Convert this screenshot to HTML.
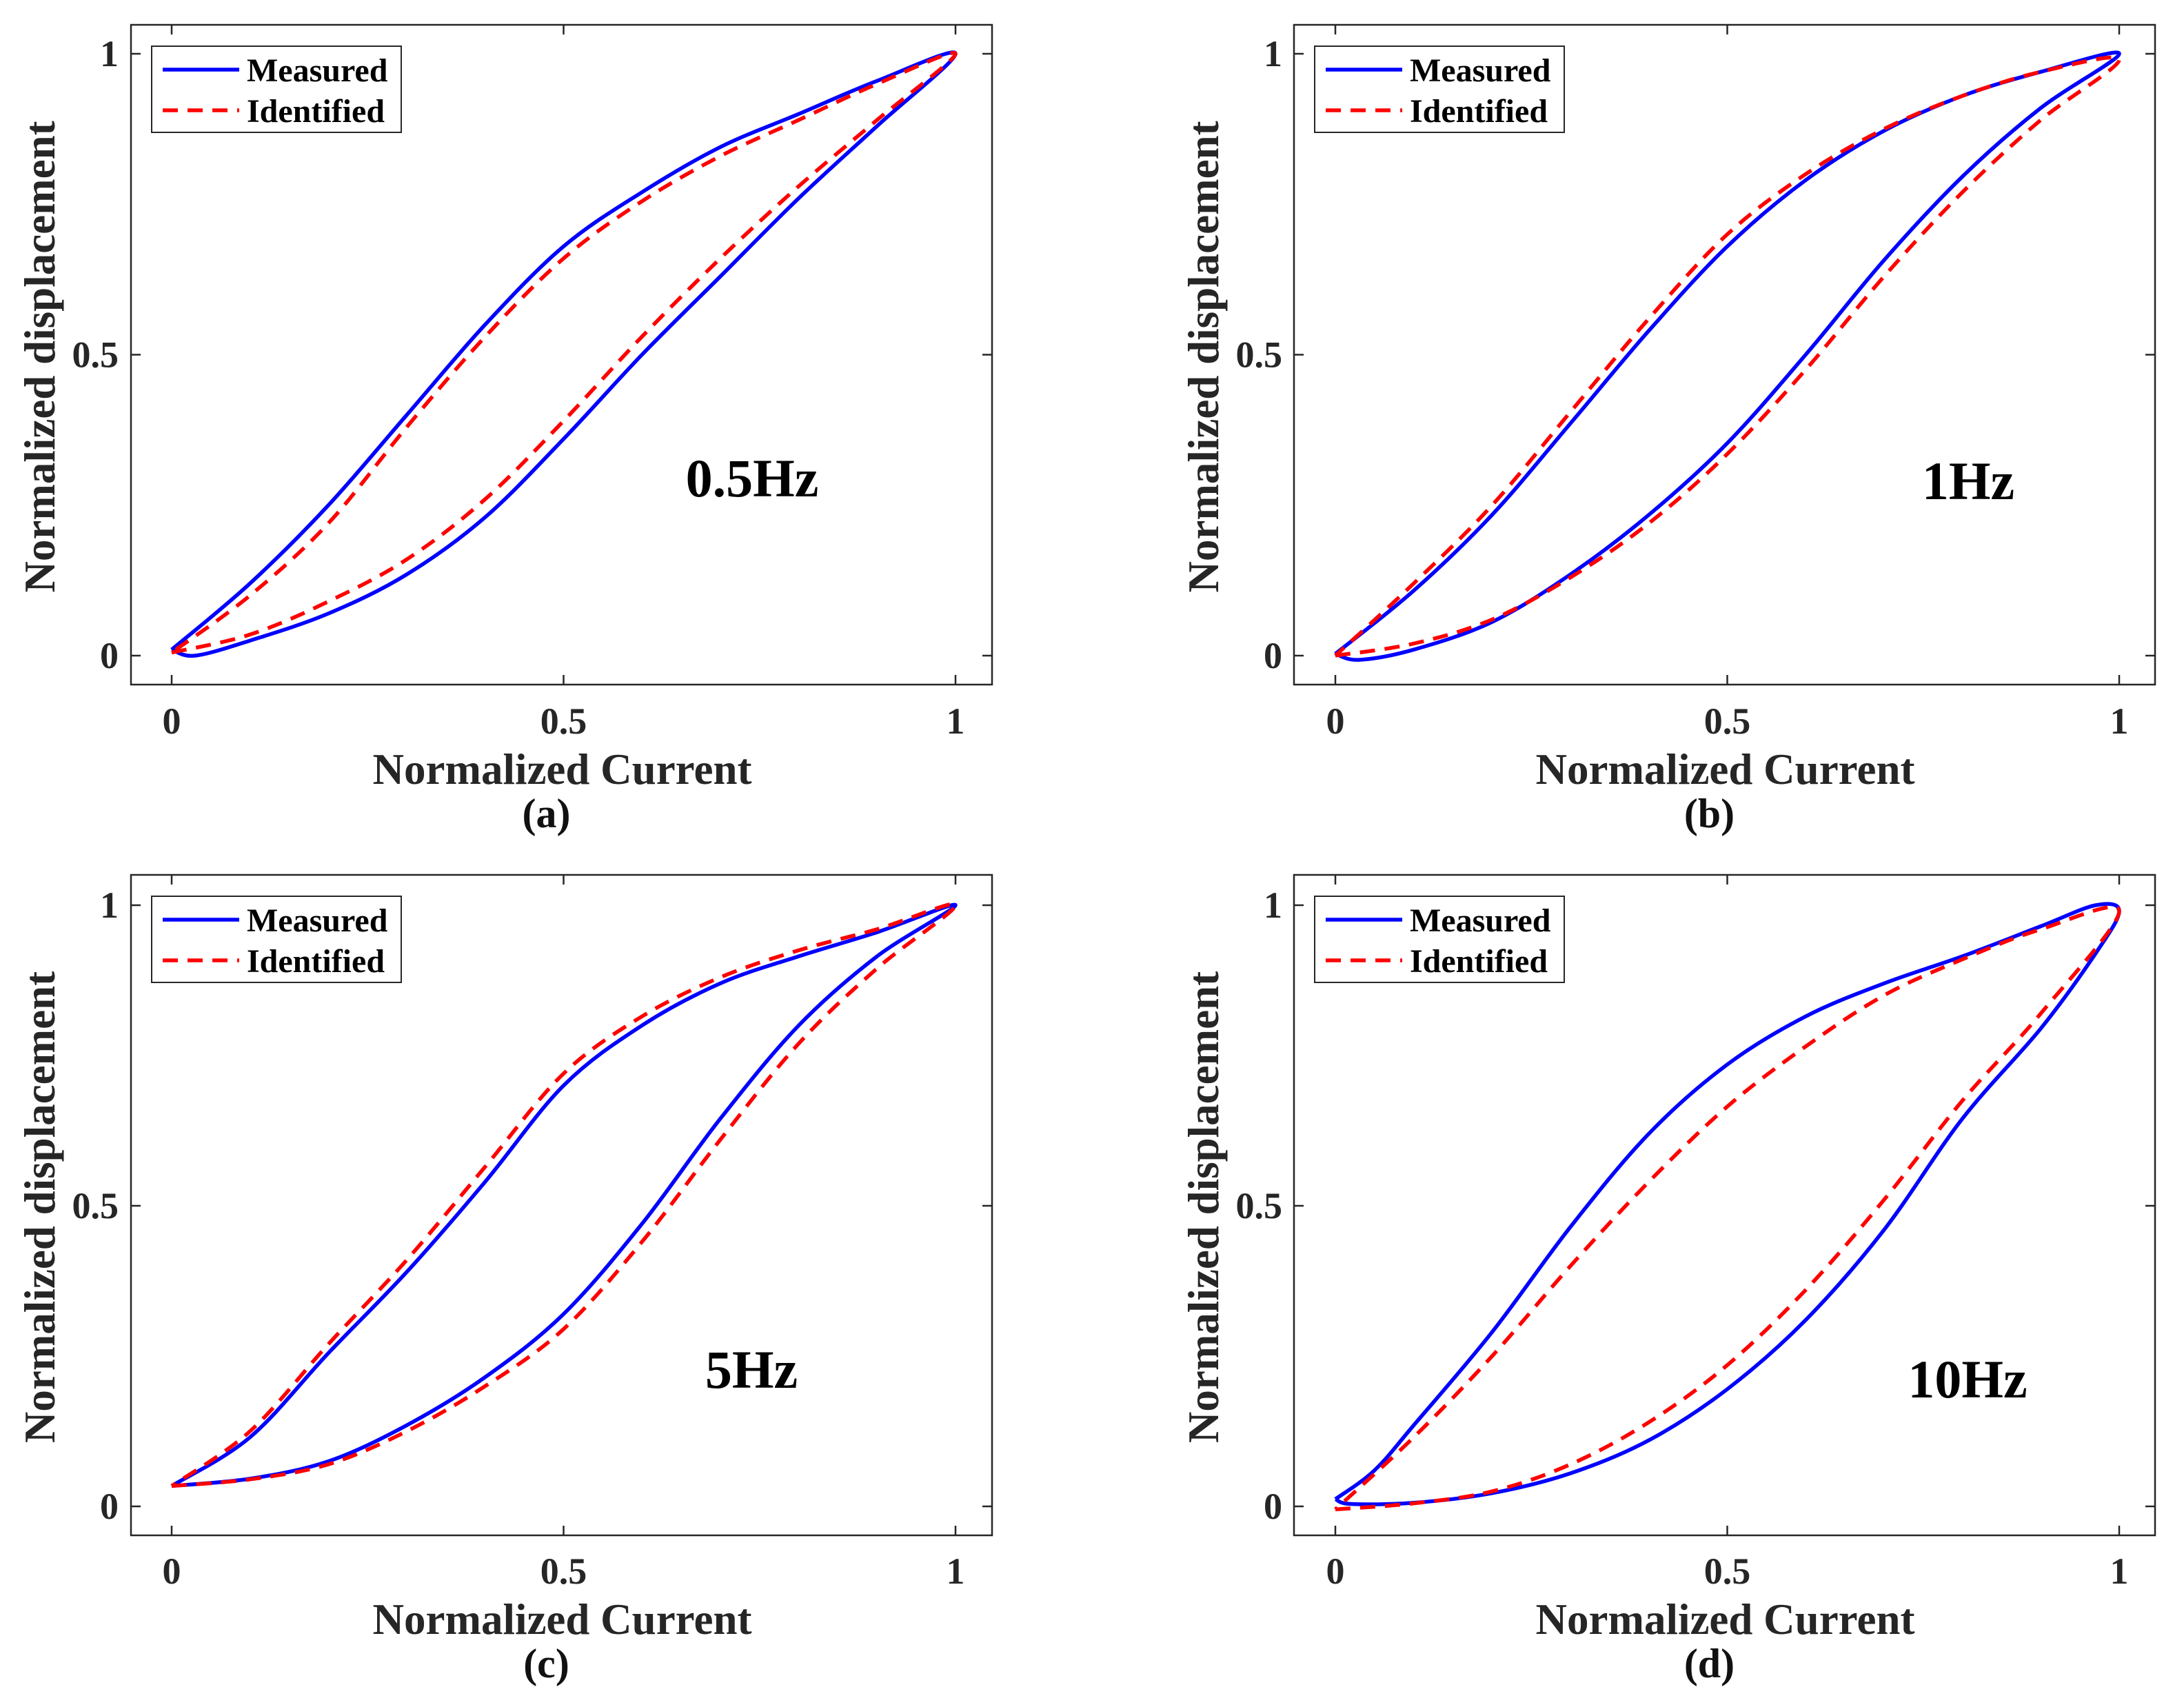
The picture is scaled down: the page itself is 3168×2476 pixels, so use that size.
<!DOCTYPE html>
<html><head><meta charset="utf-8"><style>
html,body{margin:0;padding:0;background:#fff;}
svg{display:block;font-family:"Liberation Serif",serif;font-weight:bold;}
</style></head><body>
<svg id="fig" width="3168" height="2476" viewBox="0 0 3168 2476" xmlns="http://www.w3.org/2000/svg"></svg>
<script>
// ---------- data (normalized current x, normalized displacement y) ----------
const xTicks = [0, 0.5, 1];
const xTickLabels = ["0", "0.5", "1"];
const yTicks = [0, 0.5, 1];
const yTickLabels = ["0", "0.5", "1"];
const panelLabels = ["(a)", "(b)", "(c)", "(d)"];
const freqLabels = ["0.5Hz", "1Hz", "5Hz", "10Hz"];

// Panel (a) 0.5Hz
const aMeasLowX = [0, 0.03, 0.1, 0.2, 0.3, 0.4, 0.5, 0.6, 0.7, 0.8, 0.9, 1];
const aMeasLowY = [0.01, 0.0, 0.025, 0.07, 0.135, 0.23, 0.36, 0.50, 0.63, 0.76, 0.88, 1.0];
const aMeasUpX = [1, 0.9, 0.8, 0.7, 0.6, 0.5, 0.4, 0.3, 0.2, 0.1, 0];
const aMeasUpY = [1, 0.955, 0.90, 0.845, 0.77, 0.68, 0.55, 0.40, 0.25, 0.12, 0.01];
const aIdLowX = [0, 0.1, 0.2, 0.3, 0.4, 0.5, 0.6, 0.7, 0.8, 0.9, 1];
const aIdLowY = [0.005, 0.035, 0.09, 0.16, 0.26, 0.39, 0.53, 0.66, 0.78, 0.89, 1.0];
const aIdUpX = [1, 0.9, 0.8, 0.7, 0.6, 0.5, 0.4, 0.3, 0.2, 0.1, 0];
const aIdUpY = [1, 0.95, 0.89, 0.83, 0.755, 0.66, 0.53, 0.38, 0.22, 0.10, 0.005];

// Panel (b) 1Hz
const bMeasLowX = [0, 0.03, 0.1, 0.2, 0.3, 0.4, 0.5, 0.6, 0.7, 0.8, 0.9, 1];
const bMeasLowY = [0.003, -0.007, 0.01, 0.056, 0.135, 0.234, 0.353, 0.50, 0.657, 0.796, 0.91, 1.0];
const bMeasUpX = [1, 0.9, 0.8, 0.7, 0.6, 0.5, 0.4, 0.3, 0.2, 0.1, 0];
const bMeasUpY = [1, 0.97, 0.93, 0.872, 0.79, 0.68, 0.54, 0.386, 0.234, 0.108, 0.003];
const bIdLowX = [0, 0.1, 0.2, 0.3, 0.4, 0.5, 0.6, 0.7, 0.8, 0.9, 1];
const bIdLowY = [0.0, 0.02, 0.06, 0.13, 0.22, 0.335, 0.475, 0.63, 0.77, 0.89, 0.99];
const bIdUpX = [1, 0.9, 0.8, 0.7, 0.6, 0.5, 0.4, 0.3, 0.2, 0.1, 0];
const bIdUpY = [0.99, 0.97, 0.93, 0.875, 0.80, 0.70, 0.56, 0.405, 0.25, 0.12, 0.0];

// Panel (c) 5Hz
const cMeasLowX = [0, 0.1, 0.2, 0.3, 0.4, 0.5, 0.6, 0.7, 0.8, 0.9, 1];
const cMeasLowY = [0.034, 0.046, 0.075, 0.135, 0.215, 0.32, 0.47, 0.645, 0.80, 0.915, 1.0];
const cMeasUpX = [1, 0.9, 0.8, 0.7, 0.6, 0.5, 0.4, 0.3, 0.2, 0.1, 0];
const cMeasUpY = [1, 0.955, 0.915, 0.87, 0.80, 0.70, 0.54, 0.39, 0.255, 0.115, 0.034];
const cIdLowX = [0, 0.1, 0.2, 0.3, 0.4, 0.5, 0.6, 0.7, 0.8, 0.9, 1];
const cIdLowY = [0.034, 0.045, 0.07, 0.125, 0.20, 0.295, 0.44, 0.61, 0.77, 0.895, 1.0];
const cIdUpX = [1, 0.9, 0.8, 0.7, 0.6, 0.5, 0.4, 0.3, 0.2, 0.1, 0];
const cIdUpY = [1, 0.96, 0.925, 0.88, 0.815, 0.72, 0.565, 0.41, 0.27, 0.125, 0.034];

// Panel (d) 10Hz
const dMeasLowX = [0, 0.02, 0.1, 0.2, 0.3, 0.4, 0.5, 0.6, 0.7, 0.8, 0.9, 0.97, 1];
const dMeasLowY = [0.012, 0.004, 0.006, 0.022, 0.055, 0.11, 0.195, 0.31, 0.46, 0.645, 0.795, 0.92, 0.99];
const dMeasUpX = [1, 0.97, 0.9, 0.8, 0.7, 0.6, 0.5, 0.4, 0.3, 0.2, 0.1, 0.05, 0];
const dMeasUpY = [0.99, 1.0, 0.965, 0.915, 0.87, 0.815, 0.735, 0.62, 0.465, 0.29, 0.135, 0.06, 0.012];
const dIdLowX = [0, 0.1, 0.2, 0.3, 0.4, 0.5, 0.6, 0.7, 0.8, 0.9, 1];
const dIdLowY = [-0.005, 0.005, 0.025, 0.07, 0.14, 0.235, 0.36, 0.51, 0.675, 0.82, 0.99];
const dIdUpX = [1, 0.9, 0.8, 0.7, 0.6, 0.5, 0.4, 0.3, 0.2, 0.1, 0];
const dIdUpY = [0.99, 0.96, 0.91, 0.85, 0.765, 0.665, 0.54, 0.40, 0.25, 0.115, -0.005];

const measured = [
  [aMeasLowX, aMeasLowY, aMeasUpX, aMeasUpY],
  [bMeasLowX, bMeasLowY, bMeasUpX, bMeasUpY],
  [cMeasLowX, cMeasLowY, cMeasUpX, cMeasUpY],
  [dMeasLowX, dMeasLowY, dMeasUpX, dMeasUpY]
];
const identified = [
  [aIdLowX, aIdLowY, aIdUpX, aIdUpY],
  [bIdLowX, bIdLowY, bIdUpX, bIdUpY],
  [cIdLowX, cIdLowY, cIdUpX, cIdUpY],
  [dIdLowX, dIdLowY, dIdUpX, dIdUpY]
];

// ---------- layout ----------
const NS = "http://www.w3.org/2000/svg";
const svg = document.getElementById("fig");
const cols = [{bx0:190, bx1:1439, x0:249, x1:1386, ylab:172, yTitle:57},
              {bx0:1877, bx1:3126, x0:1937, x1:3074, ylab:1860, yTitle:1745}];
const rows = [{by0:36, by1:993, y1:78, y0:951, xlab:1064, xTitle:1137, pl:1200},
              {by0:1269, by1:2227, y1:1313, y0:2185, xlab:2297, xTitle:2370, pl:2433}];
const annot = [{x:1091, y:693}, {x:2855, y:697}, {x:1090, y:1986}, {x:2854, y:2000}];

function mk(tag, attrs, parent) {
  const e = document.createElementNS(NS, tag);
  for (const k in attrs) e.setAttribute(k, attrs[k]);
  (parent || svg).appendChild(e);
  return e;
}
function smoothPath(pts) {
  let d = "M" + pts[0][0].toFixed(1) + "," + pts[0][1].toFixed(1);
  for (let i = 0; i < pts.length - 1; i++) {
    const p0 = pts[Math.max(0, i - 1)], p1 = pts[i], p2 = pts[i + 1], p3 = pts[Math.min(pts.length - 1, i + 2)];
    const c1x = p1[0] + (p2[0] - p0[0]) / 6, c1y = p1[1] + (p2[1] - p0[1]) / 6;
    const c2x = p2[0] - (p3[0] - p1[0]) / 6, c2y = p2[1] - (p3[1] - p1[1]) / 6;
    d += " C" + c1x.toFixed(1) + "," + c1y.toFixed(1) + " " + c2x.toFixed(1) + "," + c2y.toFixed(1) + " " + p2[0].toFixed(1) + "," + p2[1].toFixed(1);
  }
  return d;
}

for (let p = 0; p < 4; p++) {
  const C = cols[p % 2], R = rows[Math.floor(p / 2)];
  const sx = v => C.x0 + v * (C.x1 - C.x0);
  const sy = v => R.y0 - v * (R.y0 - R.y1);
  const g = mk("g", {});
  
  

  const box = mk("rect", {x:C.bx0, y:R.by0, width:C.bx1 - C.bx0, height:R.by1 - R.by0, fill:"#fff", stroke:"#262626", "stroke-width":2.5}, g);
  
  

  xTicks.forEach((t, i) => {
    const x = sx(t);
    mk("line", {x1:x, y1:R.by1, x2:x, y2:R.by1 - 14, stroke:"#262626", "stroke-width":2.5}, g);
    mk("line", {x1:x, y1:R.by0, x2:x, y2:R.by0 + 14, stroke:"#262626", "stroke-width":2.5}, g);
    const tl = mk("text", {x:x, y:R.xlab, "text-anchor":"middle", "font-size":54, fill:"#262626"}, g);
    tl.textContent = xTickLabels[i];
    
    
  });
  yTicks.forEach((t, i) => {
    const y = sy(t);
    mk("line", {x1:C.bx0, y1:y, x2:C.bx0 + 14, y2:y, stroke:"#262626", "stroke-width":2.5}, g);
    mk("line", {x1:C.bx1, y1:y, x2:C.bx1 - 14, y2:y, stroke:"#262626", "stroke-width":2.5}, g);
    const tl = mk("text", {x:C.ylab, y:y + 18, "text-anchor":"end", "font-size":54, fill:"#262626"}, g);
    tl.textContent = yTickLabels[i];
    
    
  });

  const xt = mk("text", {x:(C.bx0 + C.bx1) / 2 + 1, y:R.xTitle, "text-anchor":"middle", "font-size":63, fill:"#262626"}, g);
  xt.textContent = "Normalized Current";
  
  

  const yc = (R.by0 + R.by1) / 2 + 3;
  const yt = mk("text", {x:C.yTitle, y:yc, "text-anchor":"middle", "font-size":63, fill:"#262626", transform:"rotate(-90 " + C.yTitle + " " + yc + ")", dy:"22"}, g);
  yt.textContent = "Normalized displacement";
  
  

  const pl = mk("text", {x:(C.bx0 + C.bx1) / 2 - 22, y:R.pl, "text-anchor":"middle", "font-size":60, fill:"#111"}, g);
  pl.textContent = panelLabels[p];
  
  

  // series
  const m = measured[p], id = identified[p];
  const mPts = m[0].map((v, i) => [sx(v), sy(m[1][i])]).concat(m[2].slice(1).map((v, i) => [sx(v), sy(m[3][i + 1])]));
  const iPts = id[0].map((v, i) => [sx(v), sy(id[1][i])]).concat(id[2].slice(1).map((v, i) => [sx(v), sy(id[3][i + 1])]));
  const mLine = mk("path", {d:smoothPath(mPts), fill:"none", stroke:"#0000ff", "stroke-width":5.5, "stroke-linejoin":"round"}, g);
  
  
  const iLine = mk("path", {d:smoothPath(iPts), fill:"none", stroke:"#ff0000", "stroke-width":5.5, "stroke-dasharray":"22 14"}, g);
  
  

  // annotation
  const an = mk("text", {x:annot[p].x, y:annot[p].y + 27, "text-anchor":"middle", "font-size":78, fill:"#000"}, g);
  an.textContent = freqLabels[p];
  
  

  // legend
  const lx = C.bx0 + 30, ly = R.by0 + 31;
  const lg = mk("g", {}, g);
  
  
  mk("rect", {x:lx, y:ly, width:362, height:125, fill:"#fff", stroke:"#262626", "stroke-width":2}, lg);
  mk("line", {x1:lx + 16, y1:ly + 34, x2:lx + 127, y2:ly + 34, stroke:"#0000ff", "stroke-width":5.5}, lg);
  mk("line", {x1:lx + 16, y1:ly + 93, x2:lx + 127, y2:ly + 93, stroke:"#ff0000", "stroke-width":5.5, "stroke-dasharray":"22 14"}, lg);
  const le1 = mk("text", {x:lx + 138, y:ly + 51, "font-size":48, fill:"#000"}, lg);
  le1.textContent = "Measured";
  
  
  const le2 = mk("text", {x:lx + 138, y:ly + 110, "font-size":48, fill:"#000"}, lg);
  le2.textContent = "Identified";
  
  
}
</script>
</body></html>
